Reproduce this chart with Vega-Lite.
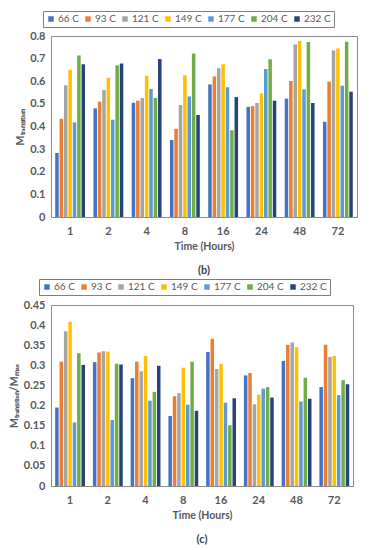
{
  "$schema": "https://vega.github.io/schema/vega-lite/v6.json",
  "background": "white",
  "padding": {"left": 8, "right": 8, "top": 10, "bottom": 2},
  "spacing": 2,
  "config": {
    "font": "Lato",
    "view": {"stroke": "#8c8c8c", "strokeWidth": 1},
    "axis": {"labelColor": "#595959", "titleColor": "#595959", "labelFontSize": 11, "labelFontWeight": "bold", "titleFontSize": 10.5, "titleFontWeight": "bold", "grid": false, "domainColor": "#8c8c8c", "tickColor": "#8c8c8c"},
    "legend": {"orient": "none", "direction": "horizontal", "title": null, "strokeColor": "#7f7f7f", "padding": 3, "labelFontSize": 10, "labelColor": "#595959", "symbolType": "square", "symbolSize": 30, "symbolStrokeWidth": 0, "columnPadding": 4, "labelOffset": 2, "gridAlign": "each"},
    "title": {"fontSize": 11, "fontWeight": "bold", "color": "#404040", "orient": "bottom", "offset": 13}
  },
  "datasets": {
    "b": [
      {"time": "1", "temp": "66 C", "value": 0.283}, {"time": "1", "temp": "93 C", "value": 0.434}, {"time": "1", "temp": "121 C", "value": 0.582}, {"time": "1", "temp": "149 C", "value": 0.651}, {"time": "1", "temp": "177 C", "value": 0.418}, {"time": "1", "temp": "204 C", "value": 0.714}, {"time": "1", "temp": "232 C", "value": 0.675},
      {"time": "2", "temp": "66 C", "value": 0.480}, {"time": "2", "temp": "93 C", "value": 0.510}, {"time": "2", "temp": "121 C", "value": 0.561}, {"time": "2", "temp": "149 C", "value": 0.616}, {"time": "2", "temp": "177 C", "value": 0.430}, {"time": "2", "temp": "204 C", "value": 0.670}, {"time": "2", "temp": "232 C", "value": 0.679},
      {"time": "4", "temp": "66 C", "value": 0.505}, {"time": "4", "temp": "93 C", "value": 0.514}, {"time": "4", "temp": "121 C", "value": 0.526}, {"time": "4", "temp": "149 C", "value": 0.624}, {"time": "4", "temp": "177 C", "value": 0.566}, {"time": "4", "temp": "204 C", "value": 0.526}, {"time": "4", "temp": "232 C", "value": 0.698},
      {"time": "8", "temp": "66 C", "value": 0.340}, {"time": "8", "temp": "93 C", "value": 0.390}, {"time": "8", "temp": "121 C", "value": 0.495}, {"time": "8", "temp": "149 C", "value": 0.626}, {"time": "8", "temp": "177 C", "value": 0.533}, {"time": "8", "temp": "204 C", "value": 0.723}, {"time": "8", "temp": "232 C", "value": 0.451},
      {"time": "16", "temp": "66 C", "value": 0.586}, {"time": "16", "temp": "93 C", "value": 0.621}, {"time": "16", "temp": "121 C", "value": 0.657}, {"time": "16", "temp": "149 C", "value": 0.675}, {"time": "16", "temp": "177 C", "value": 0.574}, {"time": "16", "temp": "204 C", "value": 0.383}, {"time": "16", "temp": "232 C", "value": 0.530},
      {"time": "24", "temp": "66 C", "value": 0.487}, {"time": "24", "temp": "93 C", "value": 0.490}, {"time": "24", "temp": "121 C", "value": 0.504}, {"time": "24", "temp": "149 C", "value": 0.546}, {"time": "24", "temp": "177 C", "value": 0.654}, {"time": "24", "temp": "204 C", "value": 0.697}, {"time": "24", "temp": "232 C", "value": 0.514},
      {"time": "48", "temp": "66 C", "value": 0.523}, {"time": "48", "temp": "93 C", "value": 0.601}, {"time": "48", "temp": "121 C", "value": 0.763}, {"time": "48", "temp": "149 C", "value": 0.778}, {"time": "48", "temp": "177 C", "value": 0.564}, {"time": "48", "temp": "204 C", "value": 0.773}, {"time": "48", "temp": "232 C", "value": 0.504},
      {"time": "72", "temp": "66 C", "value": 0.421}, {"time": "72", "temp": "93 C", "value": 0.598}, {"time": "72", "temp": "121 C", "value": 0.736}, {"time": "72", "temp": "149 C", "value": 0.745}, {"time": "72", "temp": "177 C", "value": 0.580}, {"time": "72", "temp": "204 C", "value": 0.775}, {"time": "72", "temp": "232 C", "value": 0.554}
    ],
    "c": [
      {"time": "1", "temp": "66 C", "value": 0.195}, {"time": "1", "temp": "93 C", "value": 0.309}, {"time": "1", "temp": "121 C", "value": 0.385}, {"time": "1", "temp": "149 C", "value": 0.408}, {"time": "1", "temp": "177 C", "value": 0.158}, {"time": "1", "temp": "204 C", "value": 0.330}, {"time": "1", "temp": "232 C", "value": 0.301},
      {"time": "2", "temp": "66 C", "value": 0.308}, {"time": "2", "temp": "93 C", "value": 0.332}, {"time": "2", "temp": "121 C", "value": 0.335}, {"time": "2", "temp": "149 C", "value": 0.334}, {"time": "2", "temp": "177 C", "value": 0.164}, {"time": "2", "temp": "204 C", "value": 0.304}, {"time": "2", "temp": "232 C", "value": 0.302},
      {"time": "4", "temp": "66 C", "value": 0.268}, {"time": "4", "temp": "93 C", "value": 0.309}, {"time": "4", "temp": "121 C", "value": 0.285}, {"time": "4", "temp": "149 C", "value": 0.323}, {"time": "4", "temp": "177 C", "value": 0.212}, {"time": "4", "temp": "204 C", "value": 0.234}, {"time": "4", "temp": "232 C", "value": 0.299},
      {"time": "8", "temp": "66 C", "value": 0.174}, {"time": "8", "temp": "93 C", "value": 0.223}, {"time": "8", "temp": "121 C", "value": 0.231}, {"time": "8", "temp": "149 C", "value": 0.294}, {"time": "8", "temp": "177 C", "value": 0.202}, {"time": "8", "temp": "204 C", "value": 0.309}, {"time": "8", "temp": "232 C", "value": 0.187},
      {"time": "16", "temp": "66 C", "value": 0.333}, {"time": "16", "temp": "93 C", "value": 0.366}, {"time": "16", "temp": "121 C", "value": 0.291}, {"time": "16", "temp": "149 C", "value": 0.304}, {"time": "16", "temp": "177 C", "value": 0.207}, {"time": "16", "temp": "204 C", "value": 0.151}, {"time": "16", "temp": "232 C", "value": 0.218},
      {"time": "24", "temp": "66 C", "value": 0.275}, {"time": "24", "temp": "93 C", "value": 0.281}, {"time": "24", "temp": "121 C", "value": 0.203}, {"time": "24", "temp": "149 C", "value": 0.227}, {"time": "24", "temp": "177 C", "value": 0.242}, {"time": "24", "temp": "204 C", "value": 0.246}, {"time": "24", "temp": "232 C", "value": 0.220},
      {"time": "48", "temp": "66 C", "value": 0.311}, {"time": "48", "temp": "93 C", "value": 0.351}, {"time": "48", "temp": "121 C", "value": 0.357}, {"time": "48", "temp": "149 C", "value": 0.345}, {"time": "48", "temp": "177 C", "value": 0.210}, {"time": "48", "temp": "204 C", "value": 0.269}, {"time": "48", "temp": "232 C", "value": 0.217},
      {"time": "72", "temp": "66 C", "value": 0.246}, {"time": "72", "temp": "93 C", "value": 0.351}, {"time": "72", "temp": "121 C", "value": 0.321}, {"time": "72", "temp": "149 C", "value": 0.323}, {"time": "72", "temp": "177 C", "value": 0.226}, {"time": "72", "temp": "204 C", "value": 0.263}, {"time": "72", "temp": "232 C", "value": 0.253}
    ]
  },
  "vconcat": [
    {
      "data": {"name": "b"},
      "title": {"text": "(b)"},
      "width": 306,
      "height": 181,
      "mark": {"type": "bar"},
      "encoding": {
        "x": {"field": "time", "type": "nominal", "sort": ["1", "2", "4", "8", "16", "24", "48", "72"], "scale": {"paddingInner": 0.22, "paddingOuter": 0.11}, "axis": {"title": "Time (Hours)", "labelAngle": 0, "ticks": false, "labelPadding": 8, "titlePadding": 5}},
        "xOffset": {"field": "temp", "type": "nominal", "sort": ["66 C", "93 C", "121 C", "149 C", "177 C", "204 C", "232 C"], "scale": {"paddingInner": 0.2}},
        "y": {"field": "value", "type": "quantitative", "scale": {"domain": [0, 0.8], "nice": false}, "axis": {"title": "Mₜᵣₐₙₛᵢₜᵢₒₙ", "values": [0, 0.1, 0.2, 0.3, 0.4, 0.5, 0.6, 0.7, 0.8], "format": "~g", "ticks": false, "domain": false, "labelPadding": 6, "titlePadding": 4}},
        "color": {"field": "temp", "type": "nominal", "sort": ["66 C", "93 C", "121 C", "149 C", "177 C", "204 C", "232 C"], "scale": {"domain": ["66 C", "93 C", "121 C", "149 C", "177 C", "204 C", "232 C"], "range": ["#4472C4", "#ED7D31", "#A5A5A5", "#FFC000", "#5B9BD5", "#70AD47", "#264478"]}, "legend": {"legendX": -8, "legendY": -25}}
      }
    },
    {
      "data": {"name": "c"},
      "title": {"text": "(c)"},
      "width": 302,
      "height": 181,
      "mark": {"type": "bar"},
      "encoding": {
        "x": {"field": "time", "type": "nominal", "sort": ["1", "2", "4", "8", "16", "24", "48", "72"], "scale": {"paddingInner": 0.22, "paddingOuter": 0.11}, "axis": {"title": "Time (Hours)", "labelAngle": 0, "ticks": false, "labelPadding": 8, "titlePadding": 5}},
        "xOffset": {"field": "temp", "type": "nominal", "sort": ["66 C", "93 C", "121 C", "149 C", "177 C", "204 C", "232 C"], "scale": {"paddingInner": 0.2}},
        "y": {"field": "value", "type": "quantitative", "scale": {"domain": [0, 0.45], "nice": false}, "axis": {"title": "Mₜᵣₐₙₛᵢₜᵢₒₙ/Mₘₐₓ", "values": [0, 0.05, 0.1, 0.15, 0.2, 0.25, 0.3, 0.35, 0.4, 0.45], "format": "~g", "ticks": false, "domain": false, "labelPadding": 6, "titlePadding": 4}},
        "color": {"field": "temp", "type": "nominal", "sort": ["66 C", "93 C", "121 C", "149 C", "177 C", "204 C", "232 C"], "scale": {"domain": ["66 C", "93 C", "121 C", "149 C", "177 C", "204 C", "232 C"], "range": ["#4472C4", "#ED7D31", "#A5A5A5", "#FFC000", "#5B9BD5", "#70AD47", "#264478"]}, "legend": {"legendX": -12, "legendY": -26}}
      }
    }
  ],
  "resolve": {"legend": {"color": "independent"}}
}
